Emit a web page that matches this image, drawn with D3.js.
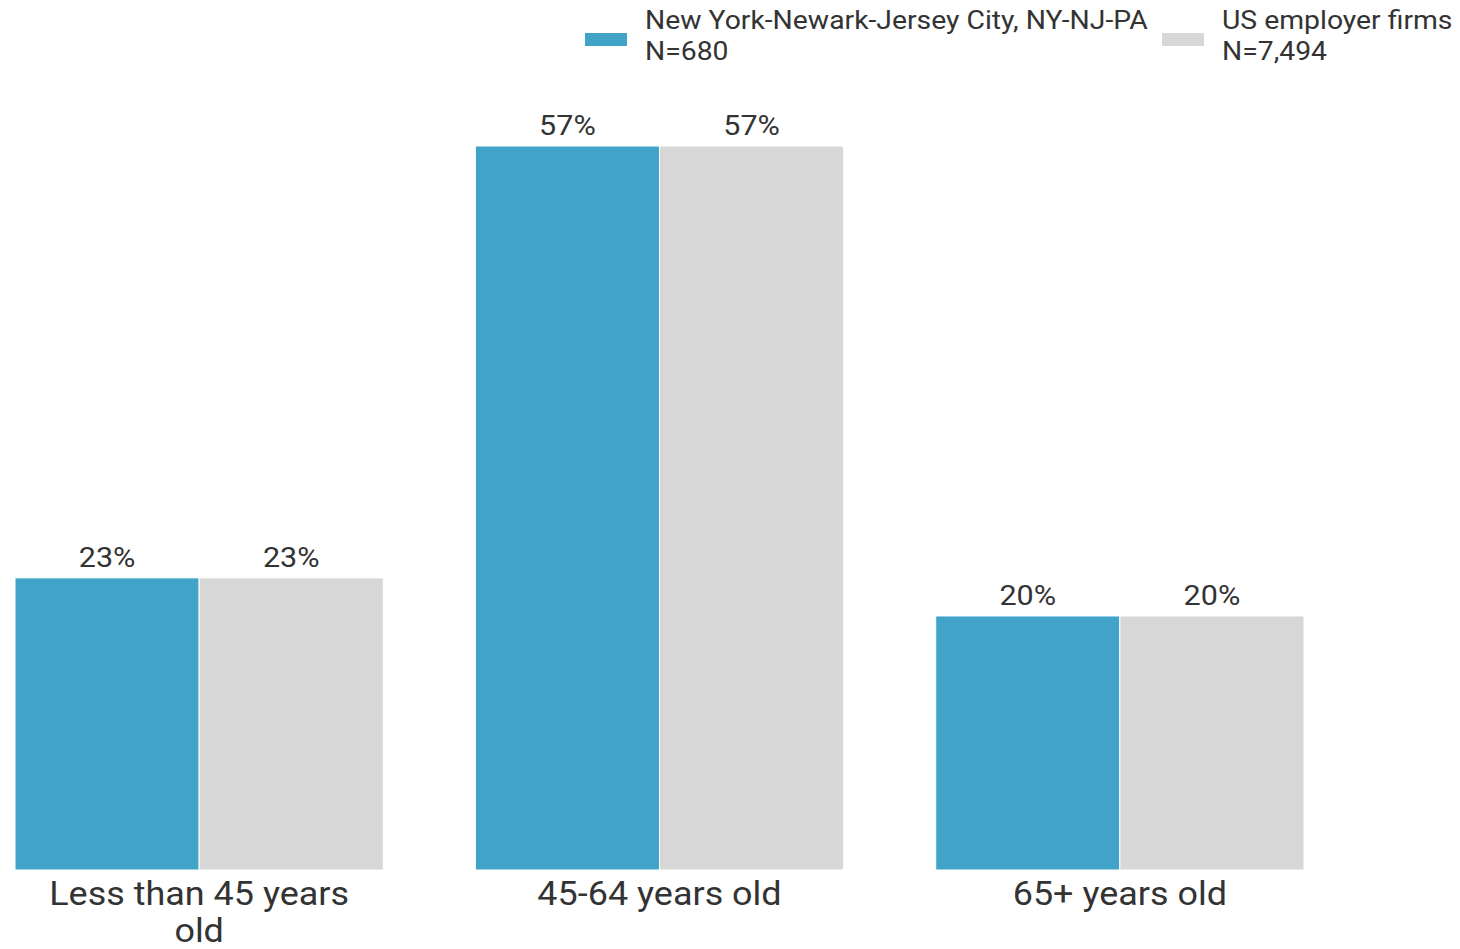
<!DOCTYPE html>
<html>
<head>
<meta charset="utf-8">
<script src="https://cdn.jsdelivr.net/npm/d3@7"></script>
<style>
  body { margin: 0; background: #fff; }
  svg { display: block; font-family: Roboto, "Noto Sans", sans-serif; }
</style>
</head>
<body>
<svg id="chart" width="1460" height="949"></svg>
<script>
// data
const categories = ["Less than 45 years old", "45-64 years old", "65+ years old"];
const seriesNames = ["New York-Newark-Jersey City, NY-NJ-PA", "US employer firms"];
const seriesN = ["N=680", "N=7,494"];
const metroValues = [23, 57, 20];
const usValues = [23, 57, 20];
const colours = ["#42a3c8", "#d7d7d7"];

const svg = d3.select("#chart");
const margin = { left: 15, right: 156, top: 146, bottom: 79 };
const width = 1460, height = 949;
// the reference text is drawn a little wider than plain Roboto
const sx = 1.09;

const data = categories.map((c, i) => ({
  category: c,
  values: [
    { key: seriesNames[0], value: metroValues[i] },
    { key: seriesNames[1], value: usValues[i] },
  ],
}));

const x0 = d3.scaleBand()
  .domain(categories)
  .range([margin.left, 1304])
  .paddingInner(0.2)
  .paddingOuter(0);

const x1 = d3.scaleBand()
  .domain(seriesNames)
  .range([0, x0.bandwidth()]);

const y = d3.scaleLinear()
  .domain([0, 57])
  .range([height - margin.bottom, margin.top]);

const colour = d3.scaleOrdinal().domain(seriesNames).range(colours);

// bars
const groups = svg.append("g").selectAll("g")
  .data(data)
  .join("g")
  .attr("transform", (d) => `translate(${x0(d.category)},0)`);

groups.selectAll("rect")
  .data((d) => d.values)
  .join("rect")
  .attr("x", (d) => x1(d.key))
  .attr("y", (d) => y(d.value))
  .attr("width", x1.bandwidth())
  .attr("height", (d) => y(0) - y(d.value))
  .attr("fill", (d) => colour(d.key))
  .attr("stroke", "#fff")
  .attr("stroke-width", 1);

groups.selectAll("text.value")
  .data((d) => d.values)
  .join("text")
  .attr("class", "value")
  .attr("transform", (d) =>
    `translate(${x1(d.key) + x1.bandwidth() / 2},${y(d.value) - 11}) scale(${sx},1)`)
  .attr("text-anchor", "middle")
  .attr("font-size", 28)
  .attr("fill", "#333")
  .text((d) => d.value + "%");

// x axis labels (no line, no ticks)
const xAxis = svg.append("g")
  .attr("transform", `translate(0,${y(0)})`)
  .call(d3.axisBottom(x0).tickSize(0).tickPadding(0));
xAxis.select(".domain").remove();
xAxis.selectAll("text")
  .attr("font-size", 33)
  .attr("font-family", "Roboto, sans-serif")
  .attr("fill", "#333")
  .attr("dy", 0)
  .attr("y", 35)
  .attr("transform", `scale(${sx},1)`)
  .call(wrap, x0.bandwidth() * 0.9);

function wrap(texts, w) {
  texts.each(function () {
    const text = d3.select(this);
    const words = text.text().split(/\s+/);
    const yPos = text.attr("y");
    let line = [];
    let lineNo = 0;
    let tspan = text.text(null).append("tspan").attr("x", 0).attr("y", yPos);
    words.forEach((word) => {
      line.push(word);
      tspan.text(line.join(" "));
      if (tspan.node().getComputedTextLength() * sx > w && line.length > 1) {
        line.pop();
        tspan.text(line.join(" "));
        line = [word];
        lineNo++;
        tspan = text.append("tspan").attr("x", 0).attr("y", yPos)
          .attr("dy", lineNo * 37).text(word);
      }
    });
  });
}

// legend
const legendItems = [
  { x: 585, textX: 645 },
  { x: 1162, textX: 1222 },
];
const legend = svg.append("g").selectAll("g")
  .data(seriesNames)
  .join("g");

legend.append("rect")
  .attr("x", (d, i) => legendItems[i].x)
  .attr("y", 33)
  .attr("width", 42)
  .attr("height", 13)
  .attr("fill", (d) => colour(d));

legend.append("text")
  .attr("transform", (d, i) => `translate(${legendItems[i].textX},29) scale(${sx},1)`)
  .attr("font-size", 26)
  .attr("fill", "#333")
  .text((d) => d);

legend.append("text")
  .attr("transform", (d, i) => `translate(${legendItems[i].textX},60) scale(${sx},1)`)
  .attr("font-size", 26)
  .attr("fill", "#333")
  .text((d, i) => seriesN[i]);
</script>
</body>
</html>
